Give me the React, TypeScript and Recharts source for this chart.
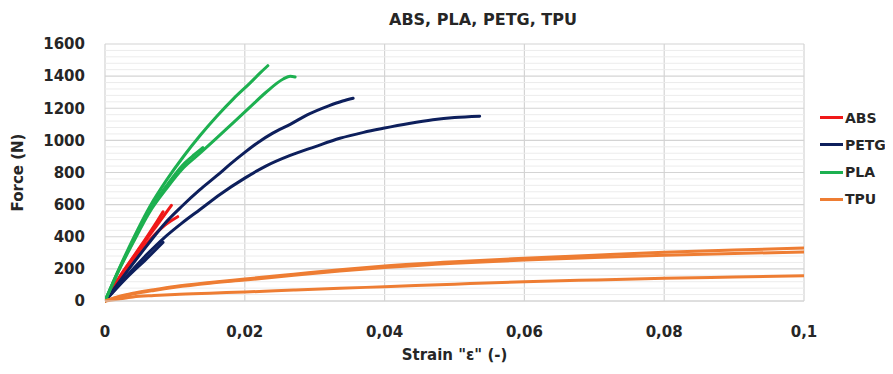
import React from 'react';
import { LineChart, Line, XAxis, YAxis, CartesianGrid, ReferenceLine } from 'recharts';

type Pt = { x: number; y: number };
const pts = (arr: number[][]): Pt[] => arr.map(([x, y]) => ({ x, y }));

const xTicks = [0, 0.02, 0.04, 0.06, 0.08, 0.1];
const yTicks = [0, 200, 400, 600, 800, 1000, 1200, 1400, 1600];
const yMinorTicks = Array.from({ length: 41 }, (_, i) => i * 40).filter((v) => v % 200 !== 0);

const abs1 = pts([[0, 0], [0.002, 140], [0.005, 328], [0.0075, 475], [0.0095, 595]]);
const abs2 = pts([[0, 0], [0.002, 145], [0.005, 335], [0.0075, 500], [0.0083, 555]]);
const abs3 = pts([[0, 0], [0.003, 190], [0.006, 360], [0.0085, 470], [0.0104, 525]]);

const petg1 = pts([[0, 0], [0.003, 175], [0.006, 345], [0.0085, 480], [0.011, 590], [0.0135, 690], [0.016, 780], [0.018, 855], [0.02, 925], [0.022, 990], [0.024, 1045], [0.0265, 1100], [0.029, 1160], [0.032, 1215], [0.034, 1245], [0.0355, 1262]]);
const petg2 = pts([[0, 0], [0.003, 150], [0.006, 290], [0.0085, 395], [0.011, 485], [0.0136, 570], [0.0165, 665], [0.02, 765], [0.023, 840], [0.0264, 905], [0.03, 960], [0.0336, 1013], [0.037, 1050], [0.0398, 1075], [0.0435, 1105], [0.0469, 1128], [0.05, 1142], [0.0536, 1150]]);
const petg3 = pts([[0, 0], [0.003, 140], [0.006, 265], [0.0083, 365]]);

const pla1 = pts([[0, 0], [0.002, 200], [0.004, 385], [0.0064, 587], [0.0088, 752], [0.0112, 898], [0.0136, 1030], [0.016, 1150], [0.0184, 1260], [0.0207, 1355], [0.0222, 1420], [0.0233, 1465]]);
const pla2 = pts([[0, 0], [0.002, 192], [0.004, 362], [0.0064, 555], [0.0088, 700], [0.0112, 828], [0.0136, 920], [0.016, 1015], [0.0184, 1112], [0.0207, 1205], [0.023, 1298], [0.0255, 1382], [0.0265, 1400], [0.0272, 1395]]);
const pla3 = pts([[0, 0], [0.002, 196], [0.004, 370], [0.0064, 568], [0.0088, 718], [0.0112, 850], [0.0128, 912], [0.014, 955]]);

const tpu1 = pts([[0, 0], [0.002, 28], [0.004, 48], [0.007, 70], [0.01, 90], [0.015, 115], [0.02, 137], [0.027, 167], [0.0336, 195], [0.04, 218], [0.05, 245], [0.06, 266], [0.07, 285], [0.08, 303], [0.09, 317], [0.1, 330]]);
const tpu2 = pts([[0, 0], [0.002, 25], [0.004, 44], [0.007, 66], [0.01, 85], [0.015, 110], [0.02, 130], [0.027, 160], [0.0336, 186], [0.04, 208], [0.05, 235], [0.06, 255], [0.07, 271], [0.08, 285], [0.09, 296], [0.1, 305]]);
const tpu3 = pts([[0, 0], [0.002, 13], [0.004, 25], [0.007, 34], [0.01, 41], [0.015, 49], [0.02, 56], [0.027, 68], [0.0336, 79], [0.04, 89], [0.05, 105], [0.06, 120], [0.07, 131], [0.08, 141], [0.09, 149], [0.1, 157]]);

const materials = [
  { name: 'ABS', color: '#f01818', series: [abs1, abs2, abs3] },
  { name: 'PETG', color: '#0d1f5c', series: [petg1, petg2, petg3] },
  { name: 'PLA', color: '#1db050', series: [pla1, pla2, pla3] },
  { name: 'TPU', color: '#ee7d33', series: [tpu1, tpu2, tpu3] },
];

const FONT = '"DejaVu Sans", sans-serif';
const TXT = '#262626';

export default function App() {
  const W = 885;
  const H = 358;
  return (
    <div style={{ position: 'relative', width: W, height: H, fontFamily: FONT }}>
      <LineChart width={W} height={H} margin={{ top: 36, right: 89, bottom: 0, left: 0 }}>
        {yMinorTicks.map((v) => (
          <ReferenceLine key={'m' + v} y={v} stroke="#ececec" strokeWidth={1} />
        ))}
        <CartesianGrid horizontalValues={yTicks} verticalValues={xTicks} stroke="#d4d4d4" strokeWidth={1.2} />
        <XAxis
          type="number"
          dataKey="x"
          domain={[0, 0.1]}
          ticks={xTicks}
          allowDataOverflow
          height={65}
          tickLine={false}
          tickSize={0}
          tickMargin={25}
          axisLine={{ stroke: '#d4d4d4' }}
          tickFormatter={(v: number) => String(v).replace('.', ',')}
          tick={{ fill: TXT, fontSize: 15, fontWeight: 'bold', fontFamily: FONT }}
          label={{ value: 'Strain "ε" (-)', position: 'insideBottom', offset: 6, fill: TXT, fontSize: 15, fontWeight: 'bold', fontFamily: FONT }}
        />
        <YAxis
          type="number"
          domain={[0, 1600]}
          ticks={yTicks}
          width={97}
          tickLine={false}
          tickSize={0}
          tickMargin={20}
          axisLine={false}
          tick={{ fill: TXT, fontSize: 15, fontWeight: 'bold', fontFamily: FONT }}
          label={{ value: 'Force (N)', angle: -90, position: 'insideLeft', offset: 10, fill: TXT, fontSize: 15, fontWeight: 'bold', fontFamily: FONT, style: { textAnchor: 'middle' } }}
        />
        {materials.map((m) =>
          m.series.map((s, i) => (
            <Line
              key={m.name + i}
              data={s}
              dataKey="y"
              type="monotone"
              stroke={m.color}
              strokeWidth={3}
              strokeLinecap="round"
              dot={false}
              activeDot={false}
              isAnimationActive={false}
              legendType="none"
            />
          ))
        )}
      </LineChart>
      <div
        style={{
          position: 'absolute',
          left: 375,
          width: 200,
          top: 2,
          lineHeight: '20px',
          textAlign: 'center',
          fontSize: 16,
          fontWeight: 'bold',
          color: TXT,
          whiteSpace: 'nowrap',
        }}
      >
        ABS, PLA, PETG, TPU
      </div>
      {materials.map((m, i) => (
        <div
          key={m.name}
          style={{
            position: 'absolute',
            left: 812,
            top: 96 + i * 27.3,
            height: 27,
            display: 'flex',
            alignItems: 'center',
            fontSize: 14,
            fontWeight: 'bold',
            color: TXT,
            whiteSpace: 'nowrap',
          }}
        >
          <span style={{ display: 'inline-block', width: 23, height: 3, background: m.color, marginRight: 2 }} />
          <span>{m.name}</span>
        </div>
      ))}
    </div>
  );
}
